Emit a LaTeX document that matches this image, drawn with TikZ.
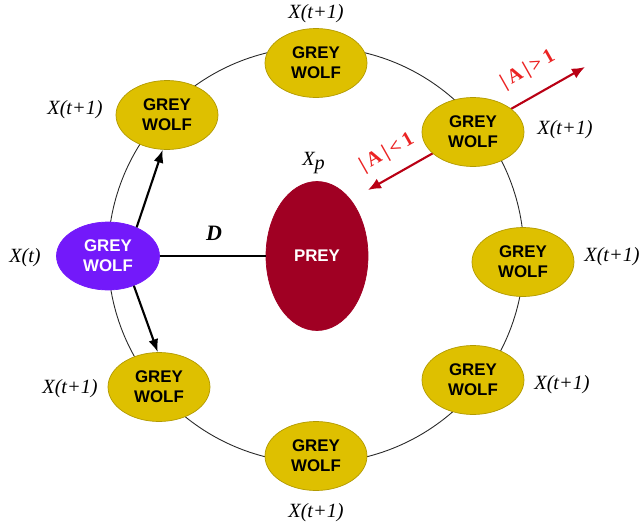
\documentclass[tikz,border=0pt]{standalone}
\usepackage{fontspec}
\setmainfont{Liberation Serif}
\newfontfamily\wolffont{Liberation Sans}
\usetikzlibrary{shapes.geometric,arrows.meta}
\definecolor{wolfyellow}{RGB}{222,192,0}
\definecolor{wolfpurple}{RGB}{115,25,250}
\definecolor{preyred}{RGB}{160,0,35}
\definecolor{arrowred}{RGB}{185,0,20}
\definecolor{textred}{RGB}{235,35,35}
\tikzset{
    wolf/.style={ellipse,fill=wolfyellow,draw=wolfyellow!80!black,thin,inner sep=0pt,
        minimum width=20.4mm,minimum height=13.8mm,align=center,
        font=\wolffont\bfseries\fontsize{9.6}{11.4}\selectfont},
    lbl/.style={font=\fontsize{11.5}{13}\selectfont\itshape},
    movearrow/.style={line width=1.2pt,-{Latex[length=2.6mm,width=2mm]}},
    alabel/.style={text=textred,rotate=29.5,font=\fontsize{11.5}{13}\selectfont\bfseries}
}
\begin{document}
\begin{tikzpicture}[x=0.2mm,y=-0.2mm]
        \useasboundingbox (0,0) rectangle (641,527);
        %%%%%%%%% Cerchio %%%%%%%%%
        \draw[line width=0.5pt,black!85] (316,255) circle (208);
        \coordinate (inner) at (368,190);
        \coordinate (outer) at (585,67);
        \draw[arrowred,line width=1.2pt,{Latex[length=2.6mm,width=2.2mm]}-{Latex[length=2.6mm,width=2.2mm]}] (inner) -- (outer);

        %%%%%%%%% Lupi %%%%%%%%%
        \node[wolf] (w1) at (316,63) {GREY\\WOLF};
        \node[wolf] (w2) at (167,115) {GREY\\WOLF};
        \node[wolf] (w3) at (473,132) {GREY\\WOLF};
        \node[wolf] (w4) at (523,262) {GREY\\WOLF};
        \node[wolf] (w5) at (473,380) {GREY\\WOLF};
        \node[wolf] (w6) at (316,456) {GREY\\WOLF};
        \node[wolf] (w7) at (159,387) {GREY\\WOLF};
        \node[wolf,fill=wolfpurple,draw=wolfpurple,text=white,minimum width=20.6mm,minimum height=13.6mm] (xt) at (108,256) {GREY\\WOLF};
        \node[wolf,fill=preyred,draw=preyred,text=white,minimum width=20.4mm,minimum height=29.8mm] (prey) at (317,256) {PREY};

        %%%%%%%%% Testo %%%%%%%%%
        \node[lbl] (l1) at (316,14) {X(t+1)};
        \node[lbl] (l2) at (75,110) {X(t+1)};
        \node[lbl] (l3) at (565,130) {X(t+1)};
        \node[lbl] (l4) at (612,257) {X(t+1)};
        \node[lbl] (l5) at (562,385) {X(t+1)};
        \node[lbl] (l6) at (316,513) {X(t+1)};
        \node[lbl] (l7) at (70,389) {X(t+1)};
        \node[lbl] (lt) at (25,258) {X(t)};
        \node[lbl] (lp) at (314,163) {X$_{\textit{p}}$};
        \node[lbl,font=\fontsize{12.5}{14}\selectfont\bfseries\itshape] (dist) at (214,233) {D};
        \node[alabel] (big) at (528,70) {|\kern2pt A\kern2pt|\kern2pt>\kern2pt1};
        \node[alabel] (small) at (387,153) {|\kern2pt A\kern2pt|\kern2pt<\kern2pt1};

        %%%%%%%%% Frecce %%%%%%%%%
        \draw[line width=1.2pt] (xt.east) -- (prey.west);
        \draw[movearrow] (xt.45) -- (w2.-97);
        \draw[movearrow] (xt.-49) -- (w7.92);
\end{tikzpicture}
\end{document}
